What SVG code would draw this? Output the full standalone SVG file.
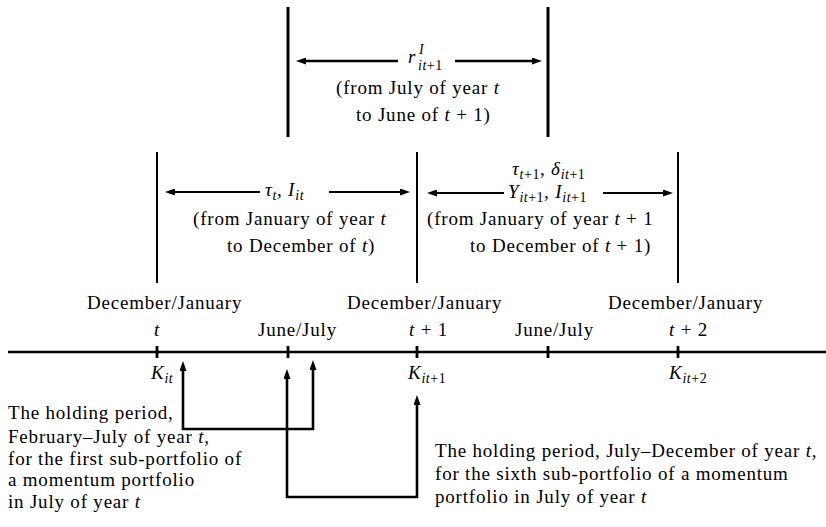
<svg xmlns="http://www.w3.org/2000/svg" width="826" height="527" viewBox="0 0 826 527">
<style>
.t{font-family:"Liberation Serif","Times New Roman",serif;font-size:19px;letter-spacing:0.8px;fill:#000}
.i{font-style:italic}
.s{font-size:14px;letter-spacing:0.5px}
.bar3{stroke:#000;stroke-width:3;fill:none}
.bar2{stroke:#000;stroke-width:2;fill:none}
.dim3{stroke:#000;stroke-width:2.6;fill:none;marker-end:url(#ah)}
.dim2{stroke:#000;stroke-width:2;fill:none;marker-end:url(#ah)}
.axis{stroke:#000;stroke-width:2.4;fill:none}
.tick{stroke:#000;stroke-width:2.8;fill:none}
.conn{stroke:#000;stroke-width:2.6;fill:none;stroke-linejoin:miter;marker-start:url(#ah);marker-end:url(#ah)}
</style>
<defs>
<marker id="ah" viewBox="0 0 10 7" refX="4" refY="3.5" markerWidth="10" markerHeight="7" markerUnits="userSpaceOnUse" orient="auto-start-reverse">
<path d="M0,0 L10,3.5 L0,7 z" fill="#000"/>
</marker>
</defs>
<rect width="826" height="527" fill="#fff"/>

<g id="timeline">
<line class="axis" x1="8" y1="352" x2="826" y2="352"/>
<line class="tick" x1="157" y1="346" x2="157" y2="358"/>
<line class="tick" x1="288" y1="346" x2="288" y2="358"/>
<line class="tick" x1="417" y1="346" x2="417" y2="358"/>
<line class="tick" x1="548" y1="346" x2="548" y2="358"/>
<line class="tick" x1="678" y1="346" x2="678" y2="358"/>
</g>

<g id="axis-labels">
<text class="t" x="87" y="309">December/January</text>
<text class="t" x="347" y="309">December/January</text>
<text class="t" x="608" y="309">December/January</text>
<text class="t i" x="154" y="336">t</text>
<text class="t" x="409" y="336"><tspan class="i">t</tspan> + 1</text>
<text class="t" x="669" y="336"><tspan class="i">t</tspan> + 2</text>
<text class="t" x="258" y="336">June/July</text>
<text class="t" x="515" y="336">June/July</text>
<text class="t" x="151" y="379"><tspan class="i">K</tspan><tspan class="s i" y="383">it</tspan></text>
<text class="t" x="408" y="379"><tspan class="i">K</tspan><tspan class="s" y="383"><tspan class="i">it</tspan>+1</tspan></text>
<text class="t" x="669" y="379"><tspan class="i">K</tspan><tspan class="s" y="383"><tspan class="i">it</tspan>+2</tspan></text>
</g>

<g id="bracket-top">
<line class="bar3" x1="288" y1="7" x2="288" y2="137"/>
<line class="bar3" x1="548" y1="7" x2="548" y2="137"/>
<line class="dim3" x1="398" y1="61" x2="302" y2="61"/>
<line class="dim3" x1="455" y1="61" x2="536" y2="61"/>
<text class="t" x="408" y="63"><tspan class="i">r</tspan><tspan class="s i" x="419" y="54">I</tspan><tspan class="s" x="418" y="70"><tspan class="i">it</tspan>+1</tspan></text>
<text class="t" x="336" y="94">(from July of year <tspan class="i">t</tspan></text>
<text class="t" x="356" y="121">to June of <tspan class="i">t</tspan> + 1)</text>
</g>

<g id="bracket-left">
<line class="bar2" x1="157" y1="152" x2="157" y2="283"/>
<line class="bar2" x1="417" y1="152" x2="417" y2="283"/>
<line class="dim2" x1="260" y1="192" x2="171" y2="192"/>
<line class="dim2" x1="329" y1="192" x2="404" y2="192"/>
<text class="t" x="265" y="196"><tspan class="i">τ</tspan><tspan class="s i" y="200">t</tspan><tspan y="196">,  </tspan><tspan class="i" y="196">I</tspan><tspan class="s i" y="200">it</tspan></text>
<text class="t" x="193" y="225">(from January of year <tspan class="i">t</tspan></text>
<text class="t" x="227" y="252">to December of <tspan class="i">t</tspan>)</text>
</g>

<g id="bracket-right">
<line class="bar2" x1="678" y1="152" x2="678" y2="283"/>
<line class="dim2" x1="504" y1="193" x2="433" y2="193"/>
<line class="dim2" x1="603" y1="193" x2="667" y2="193"/>
<text class="t" x="512" y="175"><tspan class="i">τ</tspan><tspan class="s" y="179"><tspan class="i">t</tspan>+1</tspan><tspan y="175">, </tspan><tspan class="i" y="175">δ</tspan><tspan class="s" y="179"><tspan class="i">it</tspan>+1</tspan></text>
<text class="t" x="508" y="198"><tspan class="i">Y</tspan><tspan class="s" y="202"><tspan class="i">it</tspan>+1</tspan><tspan y="198">, </tspan><tspan class="i" y="198">I</tspan><tspan class="s" y="202"><tspan class="i">it</tspan>+1</tspan></text>
<text class="t" x="427" y="225">(from January of year <tspan class="i">t</tspan> + 1</text>
<text class="t" x="470" y="252">to December of <tspan class="i">t</tspan> + 1)</text>
</g>

<g id="note-first">
<text class="t" x="8" y="419">The holding period,</text>
<text class="t" x="8" y="443">February–July of year <tspan class="i">t</tspan>,</text>
<text class="t" x="8" y="464.5">for the first sub-portfolio of</text>
<text class="t" x="8" y="486">a momentum portfolio</text>
<text class="t" x="8" y="507.5">in July of year <tspan class="i">t</tspan></text>
</g>

<g id="note-sixth">
<text class="t" x="435" y="457">The holding period, July–December of year <tspan class="i">t</tspan>,</text>
<text class="t" x="435" y="480">for the sixth sub-portfolio of a momentum</text>
<text class="t" x="435" y="503">portfolio in July of year <tspan class="i">t</tspan></text>
</g>

<g id="connectors">
<path class="conn" d="M183,367 L183,429 L313,429 L313,366"/>
<path class="conn" d="M287,375 L287,497 L417,497 L417,401"/>
</g>
</svg>
